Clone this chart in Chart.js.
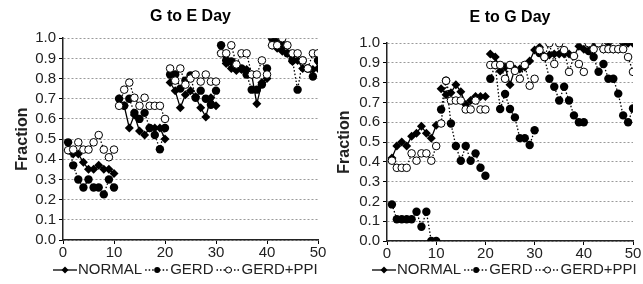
<!DOCTYPE html>
<html>
<head>
<meta charset="utf-8">
<script src="https://cdn.jsdelivr.net/npm/chart.js"></script>
<style>
  html, body { margin: 0; padding: 0; background: #fff; }
  #wrap { position: relative; width: 643px; height: 284px; overflow: hidden; }
  .box { position: absolute; top: 0; height: 284px; }
  #boxA { left: 0; width: 330px; }
  #boxB { left: 322px; width: 321px; }
</style>
</head>
<body>
<div id="wrap">
  <div class="box" id="boxA"><canvas id="chartA"></canvas></div>
  <div class="box" id="boxB"><canvas id="chartB"></canvas></div>
</div>
<script>
// days 1..50 (five blocks of ten days)
const seriesNames = ['NORMAL', 'GERD', 'GERD+PPI'];
const xTicks = [0, 10, 20, 30, 40, 50];

const gteNormal = [
  0.445, 0.426, 0.426, 0.385, 0.35, 0.35, 0.37, 0.35, 0.35, 0.33,
  0.70, 0.665, 0.555, 0.62, 0.54, 0.52, 0.555, 0.555, 0.555, 0.50,
  0.78, 0.74, 0.655, 0.72, 0.74, 0.71, 0.655, 0.61, 0.705, 0.665,
  0.93, 0.875, 0.85, 0.84, 0.845, 0.845, 0.82, 0.675, 0.78, 0.80,
  0.965, 0.95, 0.935, 0.925, 0.885, 0.89, 0.85, 0.85, 0.845, 0.85
];
const gteGerd = [
  0.484, 0.37, 0.30, 0.26, 0.30, 0.26, 0.26, 0.226, 0.30, 0.26,
  0.70, 0.665, 0.70, 0.63, 0.60, 0.63, 0.555, 0.52, 0.45, 0.555,
  0.82, 0.82, 0.75, 0.79, 0.815, 0.705, 0.74, 0.70, 0.67, 0.74,
  0.965, 0.89, 0.885, 0.85, 0.85, 0.82, 0.745, 0.745, 0.77, 0.85,
  1.0, 1.0, 0.965, 0.925, 0.89, 0.745, 0.89, 0.85, 0.81, 0.89
];
const gtePpi = [
  0.445, 0.448, 0.484, 0.448, 0.448, 0.484, 0.52, 0.448, 0.41, 0.448,
  0.665, 0.745, 0.78, 0.705, 0.665, 0.705, 0.665, 0.665, 0.665, 0.60,
  0.85, 0.79, 0.85, 0.77, 0.80, 0.82, 0.785, 0.82, 0.785, 0.785,
  0.925, 0.925, 0.965, 0.87, 0.925, 0.925, 0.82, 0.82, 0.89, 0.82,
  0.965, 0.965, 1.0, 0.965, 0.925, 0.925, 0.89, 0.85, 0.925, 0.925
];

const etgNormal = [
  0.42, 0.48, 0.50, 0.48, 0.53, 0.545, 0.58, 0.545, 0.52, 0.585,
  0.77, 0.74, 0.75, 0.79, 0.755, 0.69, 0.71, 0.73, 0.73, 0.73,
  0.945, 0.93, 0.86, 0.88, 0.79, 0.87, 0.87, 0.88, 0.91, 0.965,
  0.98, 0.935, 0.94, 0.945, 0.945, 0.945, 0.945, 0.935, 0.985, 0.97,
  1.0, 1.0, 1.0, 0.97, 1.0, 0.97, 0.97, 1.0, 1.0, 1.0
];
const etgGerd = [
  0.185, 0.11, 0.11, 0.11, 0.11, 0.148, 0.072, 0.148, 0.0, 0.0,
  0.665, 0.81, 0.594, 0.48, 0.406, 0.48, 0.406, 0.443, 0.37, 0.33,
  0.82, 0.89, 0.667, 0.743, 0.667, 0.625, 0.52, 0.52, 0.485, 0.56,
  0.95, 0.93, 0.82, 0.78, 0.71, 0.78, 0.71, 0.635, 0.60, 0.60,
  0.96, 0.93, 0.856, 0.895, 0.82, 0.82, 0.745, 0.635, 0.60, 0.67
];
const etgPpi = [
  0.406, 0.37, 0.37, 0.37, 0.443, 0.406, 0.443, 0.443, 0.406, 0.48,
  0.594, 0.81, 0.71, 0.71, 0.71, 0.665, 0.665, 0.71, 0.665, 0.665,
  0.89, 0.89, 0.89, 0.82, 0.89, 0.86, 0.82, 0.89, 0.785, 0.82,
  0.965, 0.93, 1.0, 0.895, 1.0, 0.965, 0.855, 0.935, 0.895, 0.855,
  1.0, 0.97, 1.0, 0.97, 0.97, 0.97, 0.97, 0.97, 0.93, 0.855
];

const FONT = "'Liberation Sans', Arial, sans-serif";

// break the line between the blocks of ten days
function toPoints(values) {
  const pts = [];
  values.forEach(function (v, i) {
    const day = i + 1;
    pts.push({ x: day, y: v });
    if (day % 10 === 0 && day < values.length) pts.push({ x: day + 0.5, y: null });
  });
  return pts;
}

function drawMarker(ctx, kind, x, y, r) {
  ctx.save();
  ctx.setLineDash([]);
  ctx.beginPath();
  if (kind === 0) {
    ctx.moveTo(x, y - r); ctx.lineTo(x + r, y); ctx.lineTo(x, y + r); ctx.lineTo(x - r, y);
    ctx.closePath();
    ctx.fillStyle = '#000'; ctx.fill();
  } else if (kind === 1) {
    ctx.arc(x, y, r, 0, Math.PI * 2);
    ctx.fillStyle = '#000'; ctx.fill();
  } else {
    ctx.arc(x, y, r, 0, Math.PI * 2);
    ctx.fillStyle = '#fff'; ctx.fill();
    ctx.lineWidth = 1; ctx.strokeStyle = '#000'; ctx.stroke();
  }
  ctx.restore();
}

const bottomLegend = {
  id: 'bottomLegend',
  afterDraw(chart, args, opts) {
    const ctx = chart.ctx;
    let x = opts.x;
    const y = opts.y;
    ctx.save();
    ctx.font = '15px ' + FONT;
    ctx.textBaseline = 'middle';
    ctx.fillStyle = '#222';
    seriesNames.forEach(function (name, i) {
      const w = 24;
      ctx.beginPath();
      ctx.lineWidth = 1.3;
      ctx.strokeStyle = '#000';
      ctx.setLineDash(i === 0 ? [] : [1.5, 2]);
      ctx.moveTo(x, y); ctx.lineTo(x + w, y);
      ctx.stroke();
      drawMarker(ctx, i, x + w / 2, y, i === 0 ? 3.5 : 3);
      ctx.fillText(name, x + w + 1, y);
      x += w + 1 + ctx.measureText(name).width + 3;
    });
    ctx.restore();
  }
};

function makeChart(id, title, normal, gerd, ppi, lay) {
  const ctx = document.getElementById(id).getContext('2d');
  return new Chart(ctx, {
    type: 'line',
    data: {
      datasets: [
        {
          label: seriesNames[2], data: toPoints(ppi), order: 1,
          borderColor: '#000', borderWidth: 1.3, borderDash: [1.5, 2],
          pointStyle: 'circle', pointRadius: 3.8, pointBorderWidth: 1,
          pointBackgroundColor: '#fff', pointBorderColor: '#000'
        },
        {
          label: seriesNames[1], data: toPoints(gerd), order: 2,
          borderColor: '#000', borderWidth: 1.3, borderDash: [1.5, 2],
          pointStyle: 'circle', pointRadius: 4.2, pointBorderWidth: 0,
          pointBackgroundColor: '#000', pointBorderColor: '#000'
        },
        {
          label: seriesNames[0], data: toPoints(normal), order: 3,
          borderColor: '#000', borderWidth: 1.3,
          pointStyle: 'rectRot', pointRadius: 4.5, pointBorderWidth: 0,
          pointBackgroundColor: '#000', pointBorderColor: '#000'
        }
      ]
    },
    options: {
      responsive: true,
      maintainAspectRatio: false,
      animation: false,
      spanGaps: false,
      layout: { padding: { left: 0, right: lay.right, top: 0, bottom: lay.bottom } },
      plugins: {
        legend: { display: false },
        tooltip: { enabled: false },
        title: {
          display: true, text: title, fullSize: false, color: '#000',
          font: { family: FONT, size: 16, weight: 'bold' },
          padding: { top: lay.titleTop, bottom: lay.titleBottom }
        },
        bottomLegend: { x: lay.legendX, y: 270 }
      },
      scales: {
        x: {
          type: 'linear', min: 0, max: 50,
          afterBuildTicks: function (scale) { scale.ticks = xTicks.map(v => ({ value: v })); },
          afterFit: function (scale) { scale.height = 20; },
          ticks: { color: '#222', padding: 0, autoSkip: false, maxRotation: 0, font: { family: FONT, size: 15 } },
          grid: { drawOnChartArea: false, tickLength: 4, color: '#000' },
          border: { color: '#222', width: 1.5 }
        },
        y: {
          min: 0, max: 1,
          afterFit: function (scale) { scale.width = lay.yWidth; },
          ticks: {
            stepSize: 0.1, color: '#222', padding: 3, autoSkip: false,
            font: { family: FONT, size: 15 },
            callback: v => v.toFixed(1)
          },
          grid: { color: '#9a9a9a', lineWidth: 1, tickLength: 4, tickColor: '#000' },
          border: { color: '#222', width: 1.5, dash: [2, 2] },
          title: {
            display: true, text: 'Fraction', color: '#222',
            font: { family: FONT, size: 16, weight: 'bold' },
            padding: { top: 13, bottom: 0 }
          }
        }
      }
    },
    plugins: [bottomLegend]
  });
}

makeChart('chartA', 'G to E Day', gteNormal, gteGerd, gtePpi,
  { right: 12, bottom: 24, titleTop: 7, titleBottom: 12, yWidth: 63, legendX: 53 });
makeChart('chartB', 'E to G Day', etgNormal, etgGerd, etgPpi,
  { right: 10, bottom: 23, titleTop: 8, titleBottom: 16, yWidth: 65, legendX: 50 });
</script>
</body>
</html>
